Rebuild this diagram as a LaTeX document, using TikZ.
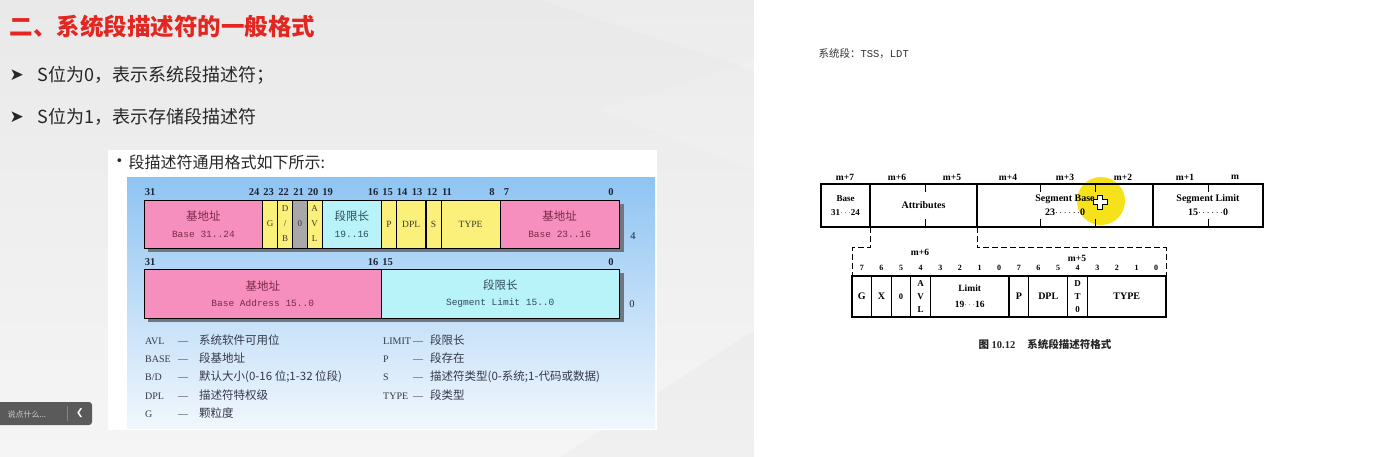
\documentclass[tikz,border=0pt]{standalone}
\usepackage{fontspec}
\setmainfont{Liberation Serif}
\setmonofont{Liberation Mono}
\newfontfamily\cjk{Noto Sans CJK SC}
\newfontfamily\dejavu{DejaVu Sans}
\newcommand\myfs[2]{\fontsize{#1}{#2}\selectfont}
\definecolor{titlered}{HTML}{E3261F}
\definecolor{pinkf}{HTML}{F78FBE}
\definecolor{yelf}{HTML}{FAF07A}
\definecolor{cyanf}{HTML}{B8F3FA}
\definecolor{greyf}{HTML}{A8A8A8}
\definecolor{pinktxt}{HTML}{7A2A48}
\definecolor{cyantxt}{HTML}{2F4B58}
\definecolor{fldtxt}{HTML}{3A3A30}
\definecolor{bitc}{HTML}{1C2436}
\definecolor{legc}{HTML}{34384A}
\definecolor{panelTop}{HTML}{8FC4F2}
\definecolor{panelBot}{HTML}{F1F7FD}
\definecolor{slideA}{HTML}{E9E9E9}
\definecolor{slideB}{HTML}{F5F5F5}
\definecolor{shadowc}{HTML}{6E7680}
\definecolor{btn}{HTML}{5A5A5A}
\definecolor{hl}{HTML}{F6E21A}
\begin{document}
\begin{tikzpicture}[x=1pt,y=-1pt,
  fld/.style={draw=black,line width=0.8pt,anchor=north west,inner sep=0pt,outer sep=0pt,align=center},
  bitlab/.style={font=\bfseries\myfs{10.5}{10},text=bitc,inner sep=0pt},
  leg/.style={anchor=west,inner sep=0pt,text=legc,font=\myfs{10}{12}},
  ufld/.style={draw=black,line width=1.2pt,anchor=north west,inner sep=0pt,outer sep=0pt,align=center,minimum height=43pt,font=\bfseries\myfs{10}{14}},
  lfld/.style={draw=black,line width=1.1pt,anchor=north west,inner sep=0pt,outer sep=0pt,align=center,minimum height=41pt,minimum width=19.625pt,font=\bfseries\myfs{10}{13}},
  mlab/.style={font=\bfseries\myfs{9.5}{10},inner sep=0pt},
  sbit/.style={font=\bfseries\myfs{8}{8},inner sep=0pt},
  conn/.style={line width=1pt,dash pattern=on 6pt off 3pt}]
\useasboundingbox (0,0) rectangle (1374,457);
% backgrounds
\shade[top color=slideA,bottom color=slideB] (0,0) rectangle (754,457);
\fill[white,opacity=0.18] (540,0) -- (754,0) -- (754,70) -- cycle;
\fill[white,opacity=0.15] (600,110) -- (754,60) -- (754,170) -- cycle;
\fill[black,opacity=0.02] (560,457) -- (754,330) -- (754,457) -- cycle;
\fill[white] (754,0) rectangle (1374,457);
% title and bullets
\node[anchor=west,text=titlered,font=\cjk\bfseries\myfs{23.5}{28}] (title) at (6,27) {二、系统段描述符的一般格式};
\node[anchor=west,font=\dejavu\myfs{17}{18},text=black!85] (ar1) at (6,75) {➤};
\node[anchor=west,font=\cjk\myfs{18}{20},text=black!85] (b1) at (34,75) {S位为0，表示系统段描述符；};
\node[anchor=west,font=\dejavu\myfs{17}{18},text=black!85] (ar2) at (6,117) {➤};
\node[anchor=west,font=\cjk\myfs{18}{20},text=black!85] (b2) at (34,117) {S位为1，表示存储段描述符};
% picture panel
\fill[white] (108,150) rectangle (657,430);
\node[anchor=west,font=\dejavu\myfs{13}{16},text=black!85] (dot) at (112,162) {•};
\node[anchor=west,font=\cjk\myfs{16}{18},text=black!85] (intro) at (125,162) {段描述符通用格式如下所示:};
\shade[top color=panelTop,bottom color=panelBot] (127,178) rectangle (655,428);
% row 1
\fill[shadowc] (148,204) rectangle (624,252);
\node[fld,fill=pinkf,minimum width=118.75pt,minimum height=48pt,text=pinktxt,font=\myfs{11.5}{17}] (r1a) at (144,200) {{\cjk 基地址}\\{\ttfamily\myfs{9.5}{17}Base 31..24}};
\node[fld,fill=yelf,minimum width=14.85pt,minimum height=48pt,text=fldtxt,font=\myfs{9}{15}] (r1g) at (262.75,200) {G};
\node[fld,fill=yelf,minimum width=14.85pt,minimum height=48pt,text=fldtxt,font=\myfs{9}{15}] (r1db) at (277.6,200) {D\\/\\B};
\node[fld,fill=greyf,minimum width=14.85pt,minimum height=48pt,text=fldtxt,font=\myfs{9}{15}] (r1z) at (292.45,200) {0};
\node[fld,fill=yelf,minimum width=14.85pt,minimum height=48pt,text=fldtxt,font=\myfs{9}{15}] (r1avl) at (307.3,200) {A\\V\\L};
\node[fld,fill=cyanf,minimum width=59.35pt,minimum height=48pt,text=cyantxt,font=\myfs{11.5}{17}] (r1lim) at (322.15,200) {{\cjk 段限长}\\{\ttfamily\myfs{9.5}{17}19..16}};
\node[fld,fill=yelf,minimum width=14.85pt,minimum height=48pt,text=fldtxt,font=\myfs{9.5}{15}] (r1p) at (381.5,200) {P};
\node[fld,fill=yelf,minimum width=29.7pt,minimum height=48pt,text=fldtxt,font=\myfs{9.5}{15}] (r1dpl) at (396.35,200) {DPL};
\node[fld,fill=yelf,minimum width=14.85pt,minimum height=48pt,text=fldtxt,font=\myfs{9.5}{15}] (r1s) at (426.05,200) {S};
\node[fld,fill=yelf,minimum width=59.35pt,minimum height=48pt,text=fldtxt,font=\myfs{9.5}{15}] (r1type) at (440.9,200) {TYPE};
\node[fld,fill=pinkf,minimum width=118.75pt,minimum height=48pt,text=pinktxt,font=\myfs{11.5}{17}] (r1b) at (500.25,200) {{\cjk 基地址}\\{\ttfamily\myfs{9.5}{17}Base 23..16}};
\draw[line width=1.2pt] (r1s.north west) -- (r1s.south west);
% row 1 bit labels
\foreach \t/\xx/\nm in {31/150/a,24/254/b,23/268.5/c,22/283.5/d,21/298.5/e,20/313/f,19/327.5/g,16/373/h,15/387.5/i,14/402/j,13/417/k,12/432/l,11/447/m,8/492/n,7/506.5/o,0/611/p}
  \node[bitlab] (bl\nm) at (\xx,192) {\t};
\node[bitlab,font=\myfs{10.5}{10}] (row4) at (633,236) {4};
% row 2
\fill[shadowc] (148,273) rectangle (624,322);
\node[fld,fill=pinkf,minimum width=237.5pt,minimum height=49pt,text=pinktxt,font=\myfs{11.5}{16}] (r2a) at (144,269) {{\cjk 基地址}\\{\ttfamily\myfs{9.5}{16}Base Address 15..0}};
\node[fld,fill=cyanf,minimum width=237.5pt,minimum height=49pt,text=cyantxt,font=\myfs{11.5}{16}] (r2b) at (381.5,269) {{\cjk 段限长}\\{\ttfamily\myfs{9.5}{16}Segment Limit 15..0}};
\foreach \t/\xx/\nm in {31/150/a,16/373/b,15/387.5/c,0/611/d}
  \node[bitlab] (bm\nm) at (\xx,262) {\t};
\node[bitlab,font=\myfs{10.5}{10}] (row0) at (632,304) {0};
% legend
\node[leg] (lg1) at (145,340) {\makebox[33pt][l]{AVL}\makebox[21pt][l]{—}{\cjk\myfs{11.5}{12}系统软件可用位}};
\node[leg] (lg2) at (145,358) {\makebox[33pt][l]{BASE}\makebox[21pt][l]{—}{\cjk\myfs{11.5}{12}段基地址}};
\node[leg] (lg3) at (145,377) {\makebox[33pt][l]{B/D}\makebox[21pt][l]{—}{\cjk\myfs{11.5}{12}默认大小(0-16 位;1-32 位段)}};
\node[leg] (lg4) at (145,395) {\makebox[33pt][l]{DPL}\makebox[21pt][l]{—}{\cjk\myfs{11.5}{12}描述符特权级}};
\node[leg] (lg5) at (145,413) {\makebox[33pt][l]{G}\makebox[21pt][l]{—}{\cjk\myfs{11.5}{12}颗粒度}};
\node[leg] (lg6) at (383,340) {\makebox[30pt][l]{LIMIT}\makebox[17pt][l]{—}{\cjk\myfs{11.5}{12}段限长}};
\node[leg] (lg7) at (383,358) {\makebox[30pt][l]{P}\makebox[17pt][l]{—}{\cjk\myfs{11.5}{12}段存在}};
\node[leg] (lg8) at (383,377) {\makebox[30pt][l]{S}\makebox[17pt][l]{—}{\cjk\myfs{11.5}{12}描述符类型(0-系统;1-代码或数据)}};
\node[leg] (lg9) at (383,395) {\makebox[30pt][l]{TYPE}\makebox[17pt][l]{—}{\cjk\myfs{11.5}{12}段类型}};
% button
\fill[btn,rounded corners=3pt] (-6,402) rectangle (92,425);
\draw[white,opacity=0.25,line width=0.6pt] (67,406) -- (67,421);
\node[anchor=west,text=black!20,font=\cjk\myfs{8}{9}] (say) at (4,414) {说点什么...};
\node[text=white,font=\dejavu\bfseries\myfs{9}{9}] (chev) at (80,413) {❮};
% right page
\node[anchor=west,font=\myfs{10.5}{12},text=black!80] (sys) at (815,54) {{\cjk 系统段：}{\ttfamily TSS}{\cjk ，}{\ttfamily LDT}};
\fill[hl] (1101,201) circle (24);
\node[ufld,minimum width=49pt,font=\bfseries\myfs{9}{14}] (u1) at (821,184) {Base\\31$\cdots$24};
\node[ufld,minimum width=107pt] (u2) at (870,184) {Attributes};
\node[ufld,minimum width=176pt] (u3) at (977,184) {Segment Base\\23$\cdots\cdots$0};
\node[ufld,minimum width=110pt] (u4) at (1153,184) {Segment Limit\\15$\cdots\cdots$0};
\foreach \xx in {925,1040,1095,1208} {
  \draw[line width=1pt] (\xx,184) -- (\xx,192);
  \draw[line width=1pt] (\xx,219) -- (\xx,227);
}
\foreach \t/\xx/\nm in {m+7/845/a,m+6/897/b,m+5/952/c,m+4/1008/d,m+3/1065/e,m+2/1123/f,m+1/1185/g,m/1235/h}
  \node[mlab] (ml\nm) at (\xx,177) {\t};
% cursor
\filldraw[fill=white,draw=black,line width=0.8pt,shift={(1100,202)}] (-2.5,-7) -- (2.5,-7) -- (2.5,-2.5) -- (7,-2.5) -- (7,2.5) -- (2.5,2.5) -- (2.5,7) -- (-2.5,7) -- (-2.5,2.5) -- (-7,2.5) -- (-7,-2.5) -- (-2.5,-2.5) -- cycle;
% lower box
\node[lfld] (l1) at (852,276) {G};
\node[lfld] (l2) at (871.625,276) {X};
\node[lfld,font=\bfseries\myfs{8.5}{13}] (l3) at (891.25,276) {0};
\node[lfld,font=\bfseries\myfs{9}{13}] (l4) at (910.875,276) {A\\V\\L};
\node[lfld,minimum width=78.5pt,font=\bfseries\myfs{9.5}{16}] (l5) at (930.5,276) {Limit\\19$\cdots$16};
\node[lfld] (l6) at (1009,276) {P};
\node[lfld,minimum width=39.25pt] (l7) at (1028.625,276) {DPL};
\node[lfld,font=\bfseries\myfs{9}{13}] (l8) at (1067.875,276) {D\\T\\0};
\node[lfld,minimum width=78.5pt] (l9) at (1087.5,276) {TYPE};
\foreach \t [count=\i from 0] in {7,6,5,4,3,2,1,0,7,6,5,4,3,2,1,0}
  \node[sbit] (sb\i) at ({861.8+19.625*\i},268) {\t};
\node[mlab] (m6) at (920,252) {m+6};
\node[mlab] (m5) at (1077,258) {m+5};
% dashed connectors
\coordinate (dl) at (852,248);
\coordinate (dr) at (1166,248);
\draw[conn] (u2.south west) |- (dl) -- (l1.north west);
\draw[conn] (u3.south west) |- (dr) -- (l9.north east);
% caption
\node[anchor=west,font=\bfseries\myfs{10.5}{12},text=black!85] (cap) at (975,344) {{\cjk 图} 10.12\hspace{12pt}{\cjk 系统段描述符格式}};
\end{tikzpicture}
\end{document}
